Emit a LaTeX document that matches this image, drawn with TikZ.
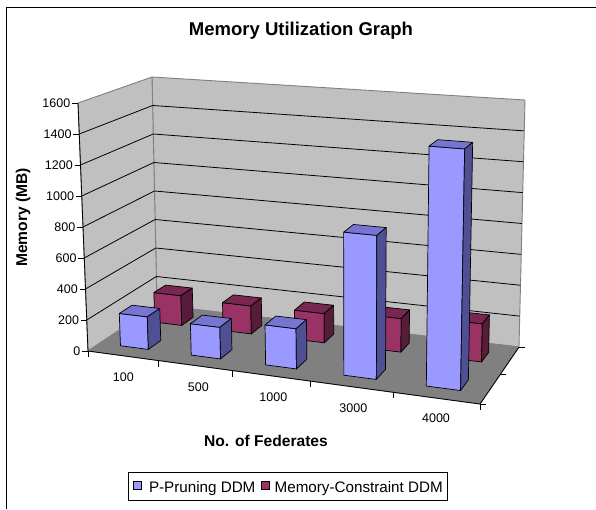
\documentclass[tikz,border=0pt]{standalone}
\usepackage{fontspec}
\setmainfont{Liberation Sans}
\definecolor{wallc}{HTML}{C0C0C0}
\definecolor{floorc}{HTML}{808080}
\definecolor{edgec}{HTML}{808080}
\definecolor{bfront}{HTML}{9999FF}
\definecolor{btop}{HTML}{7676D2}
\definecolor{bside}{HTML}{4F4F94}
\definecolor{rfront}{HTML}{993366}
\definecolor{rtop}{HTML}{782850}
\definecolor{rside}{HTML}{561C3A}
\newcommand\mkpt[4]{%
  \pgfmathsetmacro\mkW{1-0.1222*(#2)+0.0960*(#3)}%
  \pgfmathsetmacro\mkFx{(88+333.3*(#2)+84.07*(#3))/\mkW}%
  \pgfmathsetmacro\mkFy{(351+3.6*(#2)-16.72*(#3))/\mkW}%
  \pgfmathsetmacro\mkDy{(1-(#2))*(1-(#3))*(-248)+(#2)*(1-(#3))*(-272)+(#2)*(#3)*(-247)+(1-(#2))*(#3)*(-228)}%
  \pgfmathsetmacro\mkT{(#4)/1600}%
  \pgfmathsetmacro\mkX{\mkFx-\mkT*\mkDy*((\mkFx-355)/6250)}%
  \pgfmathsetmacro\mkY{\mkFy+\mkT*\mkDy}%
  \coordinate (#1) at (\mkX,\mkY);%
}
\newcommand\drawbar[7]{%
  \mkpt{#1a}{#2}{#4}{0}
  \mkpt{#1b}{#3}{#4}{0}
  \mkpt{#1c}{#3}{#4}{#6}
  \mkpt{#1d}{#2}{#4}{#6}
  \mkpt{#1e}{#3}{#5}{0}
  \mkpt{#1f}{#3}{#5}{#6}
  \mkpt{#1g}{#2}{#5}{#6}
  \draw[barline, fill=#7front] (#1a) -- (#1b) -- (#1c) -- (#1d) -- cycle;
  \draw[barline, fill=#7top] (#1d) -- (#1c) -- (#1f) -- (#1g) -- cycle;
  \draw[barline, fill=#7side] (#1b) -- (#1e) -- (#1f) -- (#1c) -- cycle;
}
\tikzset{
  barline/.style={draw=black, line width=0.7pt, line join=round},
  gridl/.style={draw=black, line width=0.8pt},
  wedge/.style={draw=edgec, line width=0.9pt, line join=round},
  axisl/.style={draw=black, line width=0.8pt},
  ticklab/.style={font=\fontsize{12.5}{14}\selectfont, inner sep=0pt},
  titlelab/.style={font=\fontsize{18.5}{20}\selectfont\bfseries, inner sep=0pt},
  axtitle/.style={font=\fontsize{15.6}{17}\selectfont\bfseries, inner sep=0pt},
  leglab/.style={font=\fontsize{15.2}{17}\selectfont, inner sep=0pt, anchor=base west},
  legkey/.style={draw=black, line width=0.7pt},
}
\begin{document}
\begin{tikzpicture}[x=1pt,y=-1pt]
\useasboundingbox (0,0) rectangle (596,509);
% chart frame
\draw[black, line width=1pt] (6,509) -- (6,7) -- (596,7);
% title
\node[titlelab, anchor=base] (title) at (301,35.5) {Memory Utilization Graph};
% wall and floor corners
\coordinate (FL0) at (88,351);
\coordinate (FR0) at (480,404);
\coordinate (BR0) at (519,347);
\coordinate (BL0) at (157,305);
\coordinate (FL1) at (78,103);
\coordinate (BL1) at (152,77);
\coordinate (BR1) at (525,100);
% walls
\draw[wedge, fill=wallc] (BL0) -- (BR0) -- (BR1) -- (BL1) -- cycle;
\draw[wedge, fill=wallc] (FL0) -- (BL0) -- (BL1) -- (FL1) -- cycle;
% floor
\draw[wedge, fill=floorc] (FL0) -- (FR0) -- (BR0) -- (BL0) -- cycle;
% gridlines
\foreach \gt in {0.125,0.25,0.375,0.5,0.625,0.75,0.875}{
  \draw[gridl] ({88-10*\gt},{351-248*\gt}) -- ({157-5*\gt},{305-228*\gt}) -- ({519+6*\gt},{347-247*\gt});
}
% axes lines
\draw[axisl] (FL0) -- (FL1);
\draw[axisl] (FL0) -- (FR0) -- (BR0);
% y ticks and labels
\foreach \v in {0,200,...,1600}{
  \pgfmathsetmacro\yfrac{\v/1600}
  \coordinate (yt) at ({88-10*\yfrac},{351-248*\yfrac});
  \draw[axisl] (yt) -- ++(-6,0);
  \node[ticklab, anchor=east] at ([xshift=-7.5pt]yt) {\v};
}
% x ticks
\foreach \u in {0,0.2,0.4,0.6,0.8,1}{
  \mkpt{xt}{\u}{0}{0}
  \draw[axisl] (xt) -- ++(0,6);
}
% depth ticks
\foreach \z in {0,0.5,1}{
  \mkpt{zt}{1}{\z}{0}
  \draw[axisl] (zt) -- ++(6,0);
}
% back row (Memory-Constraint DDM)
\drawbar{r1}{0.06}{0.14}{0.66}{0.84}{200}{r}
\drawbar{r2}{0.26}{0.34}{0.66}{0.84}{185}{r}
\drawbar{r3}{0.46}{0.54}{0.66}{0.84}{190}{r}
\drawbar{r4}{0.66}{0.74}{0.66}{0.84}{215}{r}
\drawbar{r5}{0.86}{0.94}{0.66}{0.84}{240}{r}
% front row (P-Pruning DDM)
\drawbar{b1}{0.06}{0.14}{0.16}{0.34}{210}{b}
\drawbar{b2}{0.26}{0.34}{0.16}{0.34}{200}{b}
\drawbar{b3}{0.46}{0.54}{0.16}{0.34}{250}{b}
\drawbar{b4}{0.66}{0.74}{0.16}{0.34}{880}{b}
\drawbar{b5}{0.86}{0.94}{0.16}{0.34}{1450}{b}
% category labels
\node[ticklab] (c1) at (123.3,376.7) {100};
\node[ticklab] (c2) at (198.3,386.7) {500};
\node[ticklab] (c3) at (273.3,396.7) {1000};
\node[ticklab] (c4) at (353.3,407.7) {3000};
\node[ticklab] (c5) at (436,418.3) {4000};
% axis titles
\node[axtitle, anchor=base] (xtitle) at (266,446.5) {No. of Federates};
\node[axtitle, anchor=base, rotate=90] (ytitle) at (27,217.5) {Memory (MB)};
% legend
\draw[black, line width=0.8pt, fill=white] (128.3,472.7) rectangle (447.3,500);
\draw[legkey, fill=bfront] (133.3,481.7) rectangle (141,489.3);
\draw[legkey, fill=rfront] (261.7,481.7) rectangle (269.5,489.3);
\node[leglab] (l1) at (148.8,492) {P-Pruning DDM};
\node[leglab] (l2) at (274.5,492) {Memory-Constraint DDM};
\end{tikzpicture}
\end{document}
